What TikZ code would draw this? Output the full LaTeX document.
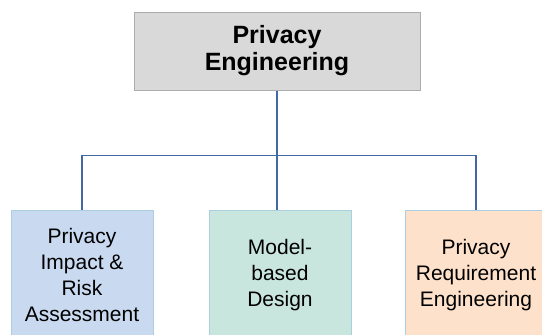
\documentclass[tikz,border=0pt]{standalone}
\usepackage{fontspec}
\setmainfont{Liberation Sans}
\usepackage{xcolor}
\usetikzlibrary{positioning}

\definecolor{topgray}{HTML}{D9D9D9}
\definecolor{topedge}{HTML}{ADADAD}
\definecolor{leafedge}{HTML}{A9CFE0}
\definecolor{piafill}{HTML}{C9DAF0}
\definecolor{mbdfill}{HTML}{C9E6DE}
\definecolor{prafill}{HTML}{FDE1CA}
\definecolor{linkblue}{HTML}{4169A6}

\begin{document}
\begin{tikzpicture}[x=1pt,y=1pt,
  topbox/.style={draw=topedge, fill=topgray, line width=1pt, align=center,
    minimum width=286pt, minimum height=78pt, inner sep=0pt,
    font=\fontsize{25}{27}\selectfont\bfseries},
  leafbox/.style={draw=leafedge, line width=1pt, align=center,
    minimum width=142pt, minimum height=130pt, inner sep=0pt,
    font=\fontsize{21}{26}\selectfont},
  link/.style={draw=linkblue, line width=1.5pt}]

\useasboundingbox (0,0) rectangle (542,-335);

% root of the tree
\node[topbox] (top) at (277,-51) {Privacy\\Engineering};

% the three branches
\node[leafbox, fill=piafill] (pia) at (82,-275)  {Privacy\\Impact \&\\Risk\\Assessment};
\node[leafbox, fill=mbdfill] (mbd) at (280,-275) {Model-\\based\\Design};
\node[leafbox, fill=prafill] (pra) at (476,-275) {Privacy\\Requirement\\Engineering};

% connectors
\coordinate (hub) at ([yshift=-65pt]top.south);
\draw[link] (top.south) -- (top.south |- mbd.north);
\draw[link] (pia.north) |- (hub) -| (pra.north);

\end{tikzpicture}
\end{document}
